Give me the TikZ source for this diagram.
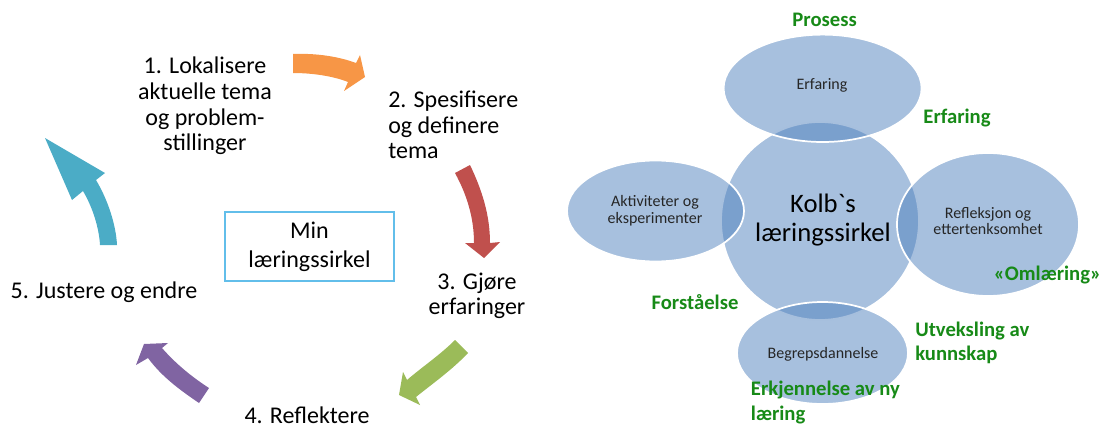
\documentclass[tikz,border=0pt]{standalone}
\usepackage{fontspec}
\setmainfont{Carlito}
\newfontfamily\rawfont{Carlito}[Ligatures=TeXOff]
\definecolor{arrOrange}{HTML}{F79646}
\definecolor{arrRed}{HTML}{C0504D}
\definecolor{arrGreen}{HTML}{9BBB59}
\definecolor{arrPurple}{HTML}{8064A2}
\definecolor{arrTeal}{HTML}{4BACC6}
\definecolor{kolbBlue}{HTML}{4F81BD}
\definecolor{noteGreen}{HTML}{178A17}
\definecolor{frameBlue}{HTML}{62BEEA}
\definecolor{bubbleInk}{HTML}{262626}
\begin{document}
\begin{tikzpicture}[x=0.75pt,y=-0.75pt,
  stagelabel/.style={font=\fontsize{18}{19.2}\selectfont, inner sep=0pt},
  note/.style={font=\bfseries\fontsize{15.5}{18.4}\selectfont, text=noteGreen, inner sep=0pt},
  bubble/.style={fill=kolbBlue, fill opacity=0.5, draw=white, line width=1.3pt},
  bubbletext/.style={font=\fontsize{12}{12.5}\selectfont, text=bubbleInk, align=center, inner sep=0pt},
  minframe/.style={draw=frameBlue, line width=1.4pt, align=center, inner sep=0pt,
    font=\fontsize{18}{22}\selectfont}
]
\useasboundingbox (0,0) rectangle (1103,428);

% ---------- Left: my own learning cycle ----------
% stage texts
\node[stagelabel, align=center] (s1) at (205,106)
  {1. Lokalisere\\aktuelle tema\\og problem-\\stillinger};
\node[stagelabel, align=left, anchor=west] (s2) at (388,125)
  {2. Spesifisere\\og definere\\tema};
\node[stagelabel, align=center] (s3) at (477,296) {3. Gjøre\\erfaringer};
\node[stagelabel] (s4) at (307,415) {4. Reflektere};
\node[stagelabel] (s5) at (104,292) {5. Justere og endre};

% title frame
\node[minframe, minimum width=126.75pt, minimum height=51.75pt] (minbox)
  at (309.5,246.5) {Min\\læringssirkel};

% curved block arrows between the stages
\fill[arrOrange] (293,54) .. controls (318,53) and (340,57) .. (356,63)
  -- (360,55) -- (365,77) -- (344,91) -- (348,82)
  .. controls (333,76) and (312,73) .. (293,73) -- cycle;
\fill[arrRed] (455,173) -- (470,165) .. controls (482,190) and (490,215) .. (490,243)
  -- (500,242) -- (484,258) -- (465,243) -- (474,243)
  .. controls (474,218) and (467,195) .. (455,173) -- cycle;
\fill[arrGreen] (455,340) -- (468,353) .. controls (452,370) and (432,384) .. (416,397)
  -- (420,405) -- (399,395) -- (403,372) -- (407,380)
  .. controls (422,367) and (440,355) .. (455,340) -- cycle;
\fill[arrPurple] (209,388) -- (199,403) .. controls (180,390) and (162,377) .. (148,358)
  -- (136,365) -- (144,344) -- (168,343) -- (162,348)
  .. controls (176,364) and (192,377) .. (209,388) -- cycle;
\fill[arrTeal] (100,245) -- (117,245) .. controls (116,225) and (108,200) .. (96,180)
  -- (105,173) -- (45,138) -- (72,200) -- (83,191)
  .. controls (93,208) and (99,228) .. (100,245) -- cycle;

% ---------- Right: Kolb's learning circle ----------
\path[bubble] (820,221) circle [radius=99];
\path[bubble] (822.6,88.3) ellipse [x radius=99, y radius=53.7];
\path[bubble] (655.5,211) ellipse [x radius=88.5, y radius=50.5];
\path[bubble] (988,224.5) ellipse [x radius=91, y radius=71.5];
\path[bubble] (822.5,353) ellipse [x radius=85.5, y radius=51];

\node[font=\rawfont\fontsize{20}{21.5}\selectfont, align=center, inner sep=0pt]
  (kolb) at (823,220) {Kolb`s\\læringssirkel};
\node[bubbletext] (erf) at (822,85) {Erfaring};
\node[bubbletext] (akt) at (655,211) {Aktiviteter og\\eksperimenter};
\node[bubbletext] (ref) at (988,221) {Refleksjon og\\ettertenksomhet};
\node[bubbletext] (beg) at (823,354) {Begrepsdannelse};

% green notes around the circle
\node[note] (n1) at (824.6,20) {Prosess};
\node[note] (n2) at (957,117.7) {Erfaring};
\node[note] (n3) at (1047.5,275) {«Omlæring»};
\node[note] (n4) at (695,302) {Forståelse};
\node[note, align=left, anchor=west] (n5) at (915,343) {Utveksling av\\kunnskap};
\node[note, align=left, anchor=west] (n6) at (750.7,402.5) {Erkjennelse av ny\\læring};
\end{tikzpicture}
\end{document}
